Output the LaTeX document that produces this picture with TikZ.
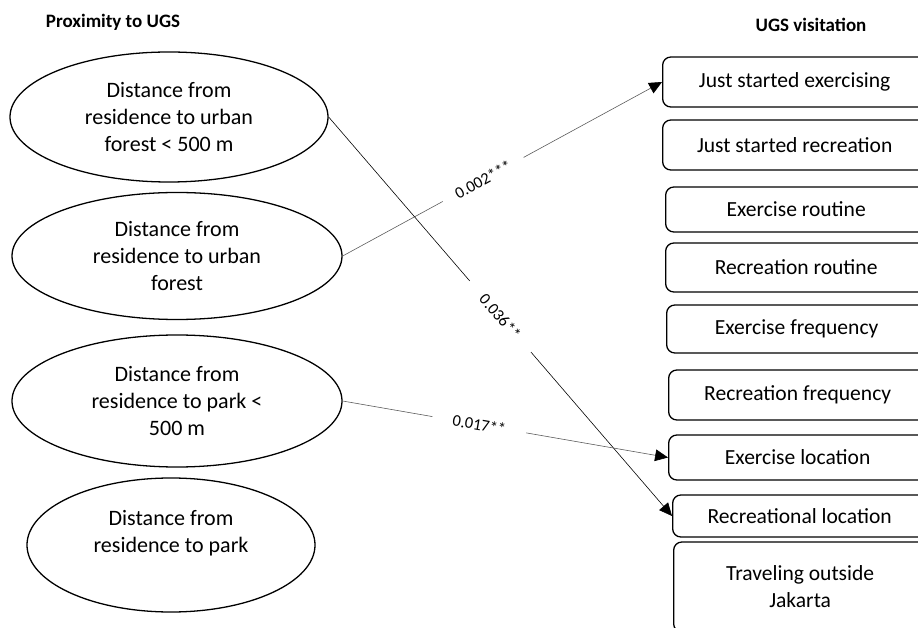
\documentclass[tikz,border=0pt]{standalone}
\usepackage{fontspec}
\setmainfont{Carlito}
\usetikzlibrary{positioning,shapes.geometric,arrows.meta}

\begin{document}
\begin{tikzpicture}[x=0.03cm,y=-0.03cm,
	factor/.style={ellipse, draw, line width=1.1pt, inner sep=0pt, align=center, font=\fontsize{18.8}{23}\selectfont},
	outcome/.style={rectangle, rounded corners=7pt, draw, line width=1.1pt, anchor=west, align=center, font=\fontsize{18.4}{23}\selectfont},
	heading/.style={font=\bfseries\fontsize{16.2}{18}\selectfont},
	effect/.style={-{Triangle[length=11pt,width=10pt,color=black]}, line width=0.5pt},
	coef/.style={sloped, fill=white, text=black, inner ysep=1pt, font=\fontsize{14}{16}\selectfont}]
	\useasboundingbox (0,0) rectangle (918,628);
	% column headings
	\node[heading] (prox) at (113,22) {Proximity to UGS};
	\node[heading] (visit) at (811,25) {UGS visitation};
	% proximity
	\node[factor, minimum width=9.54cm, minimum height=3.9cm] (forest500) at (169,117) {Distance from\\residence to urban\\forest < 500 m};
	\node[factor, minimum width=9.9cm, minimum height=3.81cm] (forest) at (177,256) {Distance from\\residence to urban\\forest};
	\node[factor, minimum width=9.9cm, minimum height=3.96cm] (park500) at (177,401) {Distance from\\residence to park <\\500 m};
	\node[factor, minimum width=8.64cm, minimum height=4.02cm] (park) at (171,545) {Distance from\\residence to park\\\mbox{}};
	% visitation
	\node[outcome, minimum width=7.92cm, minimum height=1.5cm] (startex) at (662,82) {Just started exercising};
	\node[outcome, minimum width=7.92cm, minimum height=1.5cm] (startrec) at (662,145) {Just started recreation};
	\node[outcome, minimum width=7.83cm, minimum height=1.35cm] (routex) at (665,209.5) {Exercise routine};
	\node[outcome, minimum width=7.83cm, minimum height=1.47cm] (routrec) at (665,267.5) {Recreation routine};
	\node[outcome, minimum width=7.8cm, minimum height=1.44cm] (freqex) at (666,329) {Exercise frequency};
	\node[outcome, minimum width=7.74cm, minimum height=1.5cm] (freqrec) at (668,395) {Recreation frequency};
	\node[outcome, minimum width=7.74cm, minimum height=1.35cm] (locex) at (668,457.5) {Exercise location};
	\node[outcome, minimum width=7.62cm, minimum height=1.26cm] (locrec) at (672,516) {Recreational location};
	\node[outcome, minimum width=7.59cm, minimum height=2.7cm] (travel) at (673,587) {Traveling outside\\Jakarta};
	% significant paths
	\draw[effect, black!65] (forest.east) -- (startex.west) node[coef, pos=0.44, inner xsep=0.45cm] {0.002***};
	\draw[effect] (forest500.east) -- (locrec.west) node[coef, midway, inner xsep=0.6cm] {0.036**};
	\draw[effect, black!65] (park500.east) -- (locex.west) node[coef, pos=0.42, inner xsep=0.62cm] {0.017**};
\end{tikzpicture}
\end{document}
